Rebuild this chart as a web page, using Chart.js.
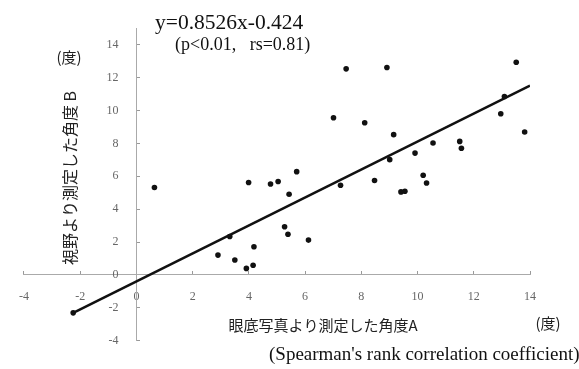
<!DOCTYPE html>
<html><head><meta charset="utf-8">
<script src="https://cdn.jsdelivr.net/npm/chart.js@4"></script>
<style>html,body{margin:0;padding:0;background:#fff}#wrap{width:579px;height:369px}</style>
</head><body><div id="wrap"><canvas id="c" width="579" height="369"></canvas></div>
<script>
// Data
const xValues = [-2.25, 0.64, 2.90, 3.32, 3.50, 3.91, 3.99, 4.15, 4.18, 4.77, 5.04, 5.27, 5.39, 5.43, 5.70, 6.12, 7.01, 7.26, 7.46, 8.12, 8.47, 8.91, 9.01, 9.15, 9.41, 9.55, 9.91, 10.20, 10.32, 10.55, 11.50, 11.56, 12.96, 13.09, 13.51, 13.81];
const yValues = [-2.30, 5.32, 1.21, 2.34, 0.91, 0.40, 5.62, 0.59, 1.72, 5.53, 5.68, 2.93, 2.48, 4.91, 6.28, 2.12, 9.56, 5.45, 12.53, 9.25, 5.74, 12.61, 7.01, 8.53, 5.05, 5.09, 7.41, 6.06, 5.59, 8.02, 8.12, 7.70, 9.80, 10.85, 12.93, 8.69];
const fitX = [-2.25, 14];
const fitY = [-2.30, 11.51];
const xTicks = [-4, -2, 0, 2, 4, 6, 8, 10, 12, 14];
const yTicks = [-4, -2, 0, 2, 4, 6, 8, 10, 12, 14];
const equationText = 'y=0.8526x-0.424';
const statText = '(p<0.01,   rs=0.81)';
const xTitle = '眼底写真より測定した角度A';
const yTitle = '視野より測定した角度 B';
const unitText = '(度)';
const noteText = "(Spearman's rank correlation coefficient)";

const points = xValues.map((x, i) => ({x: x, y: yValues[i]}));
const fitLine = fitX.map((x, i) => ({x: x, y: fitY[i]}));

const yLabelShift = {
  id: 'yLabelShift',
  beforeDraw(chart) {
    const s = chart.scales.y;
    const items = s.getLabelItems(chart.chartArea);
    if (!items._shifted) {
      items.forEach(it => { it.options.translation[0] -= 18; });
      items._shifted = true;
    }
  }
};

const textPlugin = {
  id: 'texts',
  afterDraw(chart) {
    const ctx = chart.ctx;
    ctx.save();
    ctx.fillStyle = '#111';
    ctx.textBaseline = 'alphabetic';
    ctx.textAlign = 'left';
    ctx.font = '21.5px "Liberation Serif"';
    ctx.fillText(equationText, 155, 29);
    ctx.font = '18px "Liberation Serif"';
    ctx.fillText(statText, 175, 50);
    ctx.textBaseline = 'middle';
    ctx.textAlign = 'center';
    ctx.font = '15px "Noto Sans CJK JP"';
    ctx.fillStyle = '#222';
    ctx.fillText(unitText, 69, 57);
    ctx.fillText(xTitle, 323, 325);
    ctx.fillText(unitText, 548, 323);
    ctx.save();
    ctx.translate(70, 178);
    ctx.rotate(-Math.PI / 2);
    ctx.font = '16px "Noto Sans CJK JP"';
    ctx.fillText(yTitle, 0, 0);
    ctx.restore();
    ctx.fillStyle = '#111';
    ctx.textAlign = 'left';
    ctx.font = '19px "Liberation Serif"';
    ctx.fillText(noteText, 269, 355);
    ctx.restore();
  }
};

new Chart(document.getElementById('c'), {
  type: 'scatter',
  data: {
    datasets: [
      {
        type: 'line',
        data: fitLine,
        borderColor: '#111',
        borderWidth: 2.6,
        pointRadius: 0,
        fill: false
      },
      {
        data: points,
        backgroundColor: '#111',
        borderWidth: 0,
        pointRadius: 2.8
      }
    ]
  },
  options: {
    responsive: false,
    animation: false,
    devicePixelRatio: 1,
    layout: {padding: {left: 17, right: 49, top: 27.5, bottom: 28}},
    plugins: {legend: {display: false}, tooltip: {enabled: false}},
    scales: {
      x: {
        type: 'linear',
        min: -4, max: 14,
        position: {y: 0},
        afterBuildTicks: s => { s.ticks = xTicks.map(v => ({value: v})); },
        afterFit: s => { s.height = 0; },
        grid: {drawOnChartArea: false, drawTicks: true, tickLength: -4, tickColor: '#999'},
        border: {color: '#aaa', width: 1},
        ticks: {padding: 19, color: '#666', font: {family: 'Liberation Serif', size: 12}, maxRotation: 0, autoSkip: false}
      },
      y: {
        type: 'linear',
        min: -4, max: 15,
        position: {x: 0},
        afterBuildTicks: s => { s.ticks = yTicks.map(v => ({value: v})); },
        afterFit: s => { s.width = 0; },
        grid: {drawOnChartArea: false, drawTicks: true, tickLength: -4, tickColor: '#999'},
        border: {color: '#aaa', width: 1},
        ticks: {padding: 21, color: '#666', font: {family: 'Liberation Serif', size: 12}, autoSkip: false}
      }
    }
  },
  plugins: [yLabelShift, textPlugin]
});
</script>
</body></html>
